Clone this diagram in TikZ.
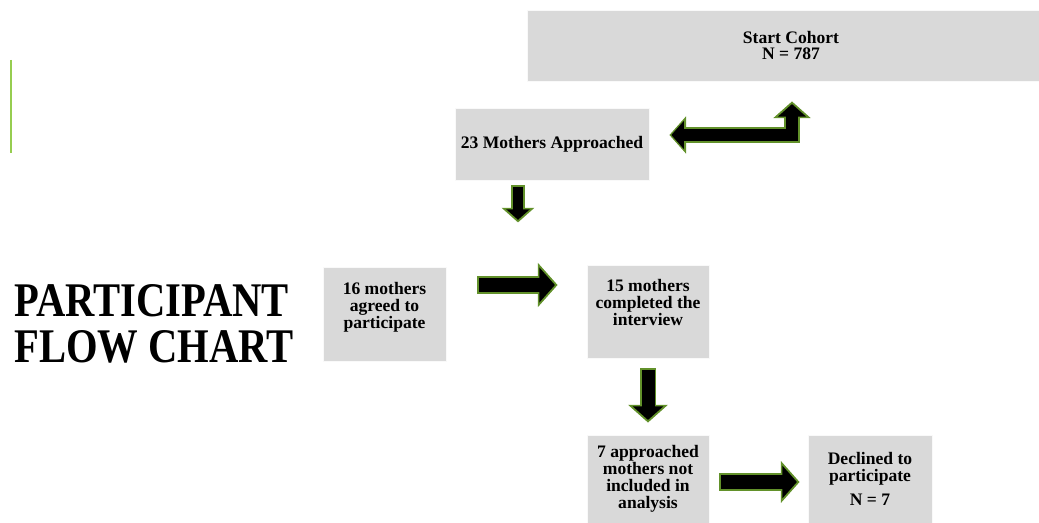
\documentclass[tikz,border=0pt]{standalone}
\usepackage{fontspec}
\setmainfont{Liberation Serif}
\usetikzlibrary{arrows.meta,calc}

\definecolor{boxgray}{RGB}{217,217,217}
\definecolor{arrowgreen}{RGB}{98,145,42}
\definecolor{linegreen}{RGB}{150,205,80}

\begin{document}
\begin{tikzpicture}[x=0.02cm,y=-0.02cm,
  box/.style={fill=boxgray, draw=white!85!boxgray, line width=0.5pt, align=center,
    inner sep=2pt, font=\fontsize{10}{9.6}\selectfont\bfseries},
  title/.style={align=left, inner sep=0pt, font=\fontsize{27.5}{26}\selectfont\bfseries},
  blockarrow/.style={line width=#1, draw=black, shorten >=1.5pt, shorten <=1.1pt,
    >={Triangle[width=0pt 2.3,length=0pt 1.05]},
    preaction={draw=arrowgreen, line width=#1+2.2pt, shorten >=0pt, shorten <=0pt}},
  blockarrow/.default=7.4pt]

% slide area
\useasboundingbox (0,0) rectangle (1039,523);

% Green accent line
\draw[linegreen, line width=1.2pt] (11,60) -- (11,153);

% Title
\node[title, anchor=west] (title) at (14,324)
  {\scalebox{0.84}[1]{PARTICIPANT}\\\scalebox{0.84}[1]{FLOW CHART}};

% Boxes
\node[box, minimum width=10.56cm, minimum height=1.42cm] (cohort) at (791,45.5)
  {Start Cohort\\N = 787};
\node[box, minimum width=3.88cm, minimum height=1.44cm] (approached) at (552,144)
  {23 Mothers Approached};
\node[box, minimum width=2.46cm, minimum height=1.88cm, text depth=10pt] (agreed) at (384.5,314)
  {16 mothers\\agreed to\\participate};
\node[box, minimum width=2.44cm, minimum height=1.86cm, text depth=10pt] (completed) at (648,311.5)
  {15 mothers\\completed the\\interview};
\node[box, minimum width=2.44cm, minimum height=1.76cm] (notincl) at (648,479)
  {7 approached\\mothers not\\included in\\analysis};
\node[box, minimum width=2.48cm, minimum height=1.76cm] (declined) at (870,479)
  {Declined to\\participate\\[4pt]N = 7};

% Free ends of the arrows
\coordinate (elbowL) at ($(approached.east)+(20,-9)$);
\coordinate (elbowT) at ($(cohort.south)+(1,20)$);
\coordinate (downA1) at ($(approached.south)+(-34,5)$);
\coordinate (downA2) at ($(approached.south)+(-34,42)$);
\coordinate (rightA1) at ($(agreed.east)+(31,-29)$);
\coordinate (rightA2) at ($(completed.west)+(-29,-26.5)$);
\coordinate (downB1) at ($(completed.south)+(0,10)$);
\coordinate (downB2) at ($(notincl.north)+(0,-12)$);
\coordinate (rightB1) at ($(notincl.east)+(10,3)$);
\coordinate (rightB2) at ($(declined.west)+(-8,3)$);

% Arrows
\draw[blockarrow=6.8pt, <->] (elbowL) -| (elbowT);
\draw[blockarrow=5.7pt, ->] (downA1) -- (downA2);
\draw[blockarrow=8.5pt, ->] (rightA1) -- (rightA2);
\draw[blockarrow, ->] (downB1) -- (downB2);
\draw[blockarrow=7.9pt, ->] (rightB1) -- (rightB2);

\end{tikzpicture}
\end{document}
